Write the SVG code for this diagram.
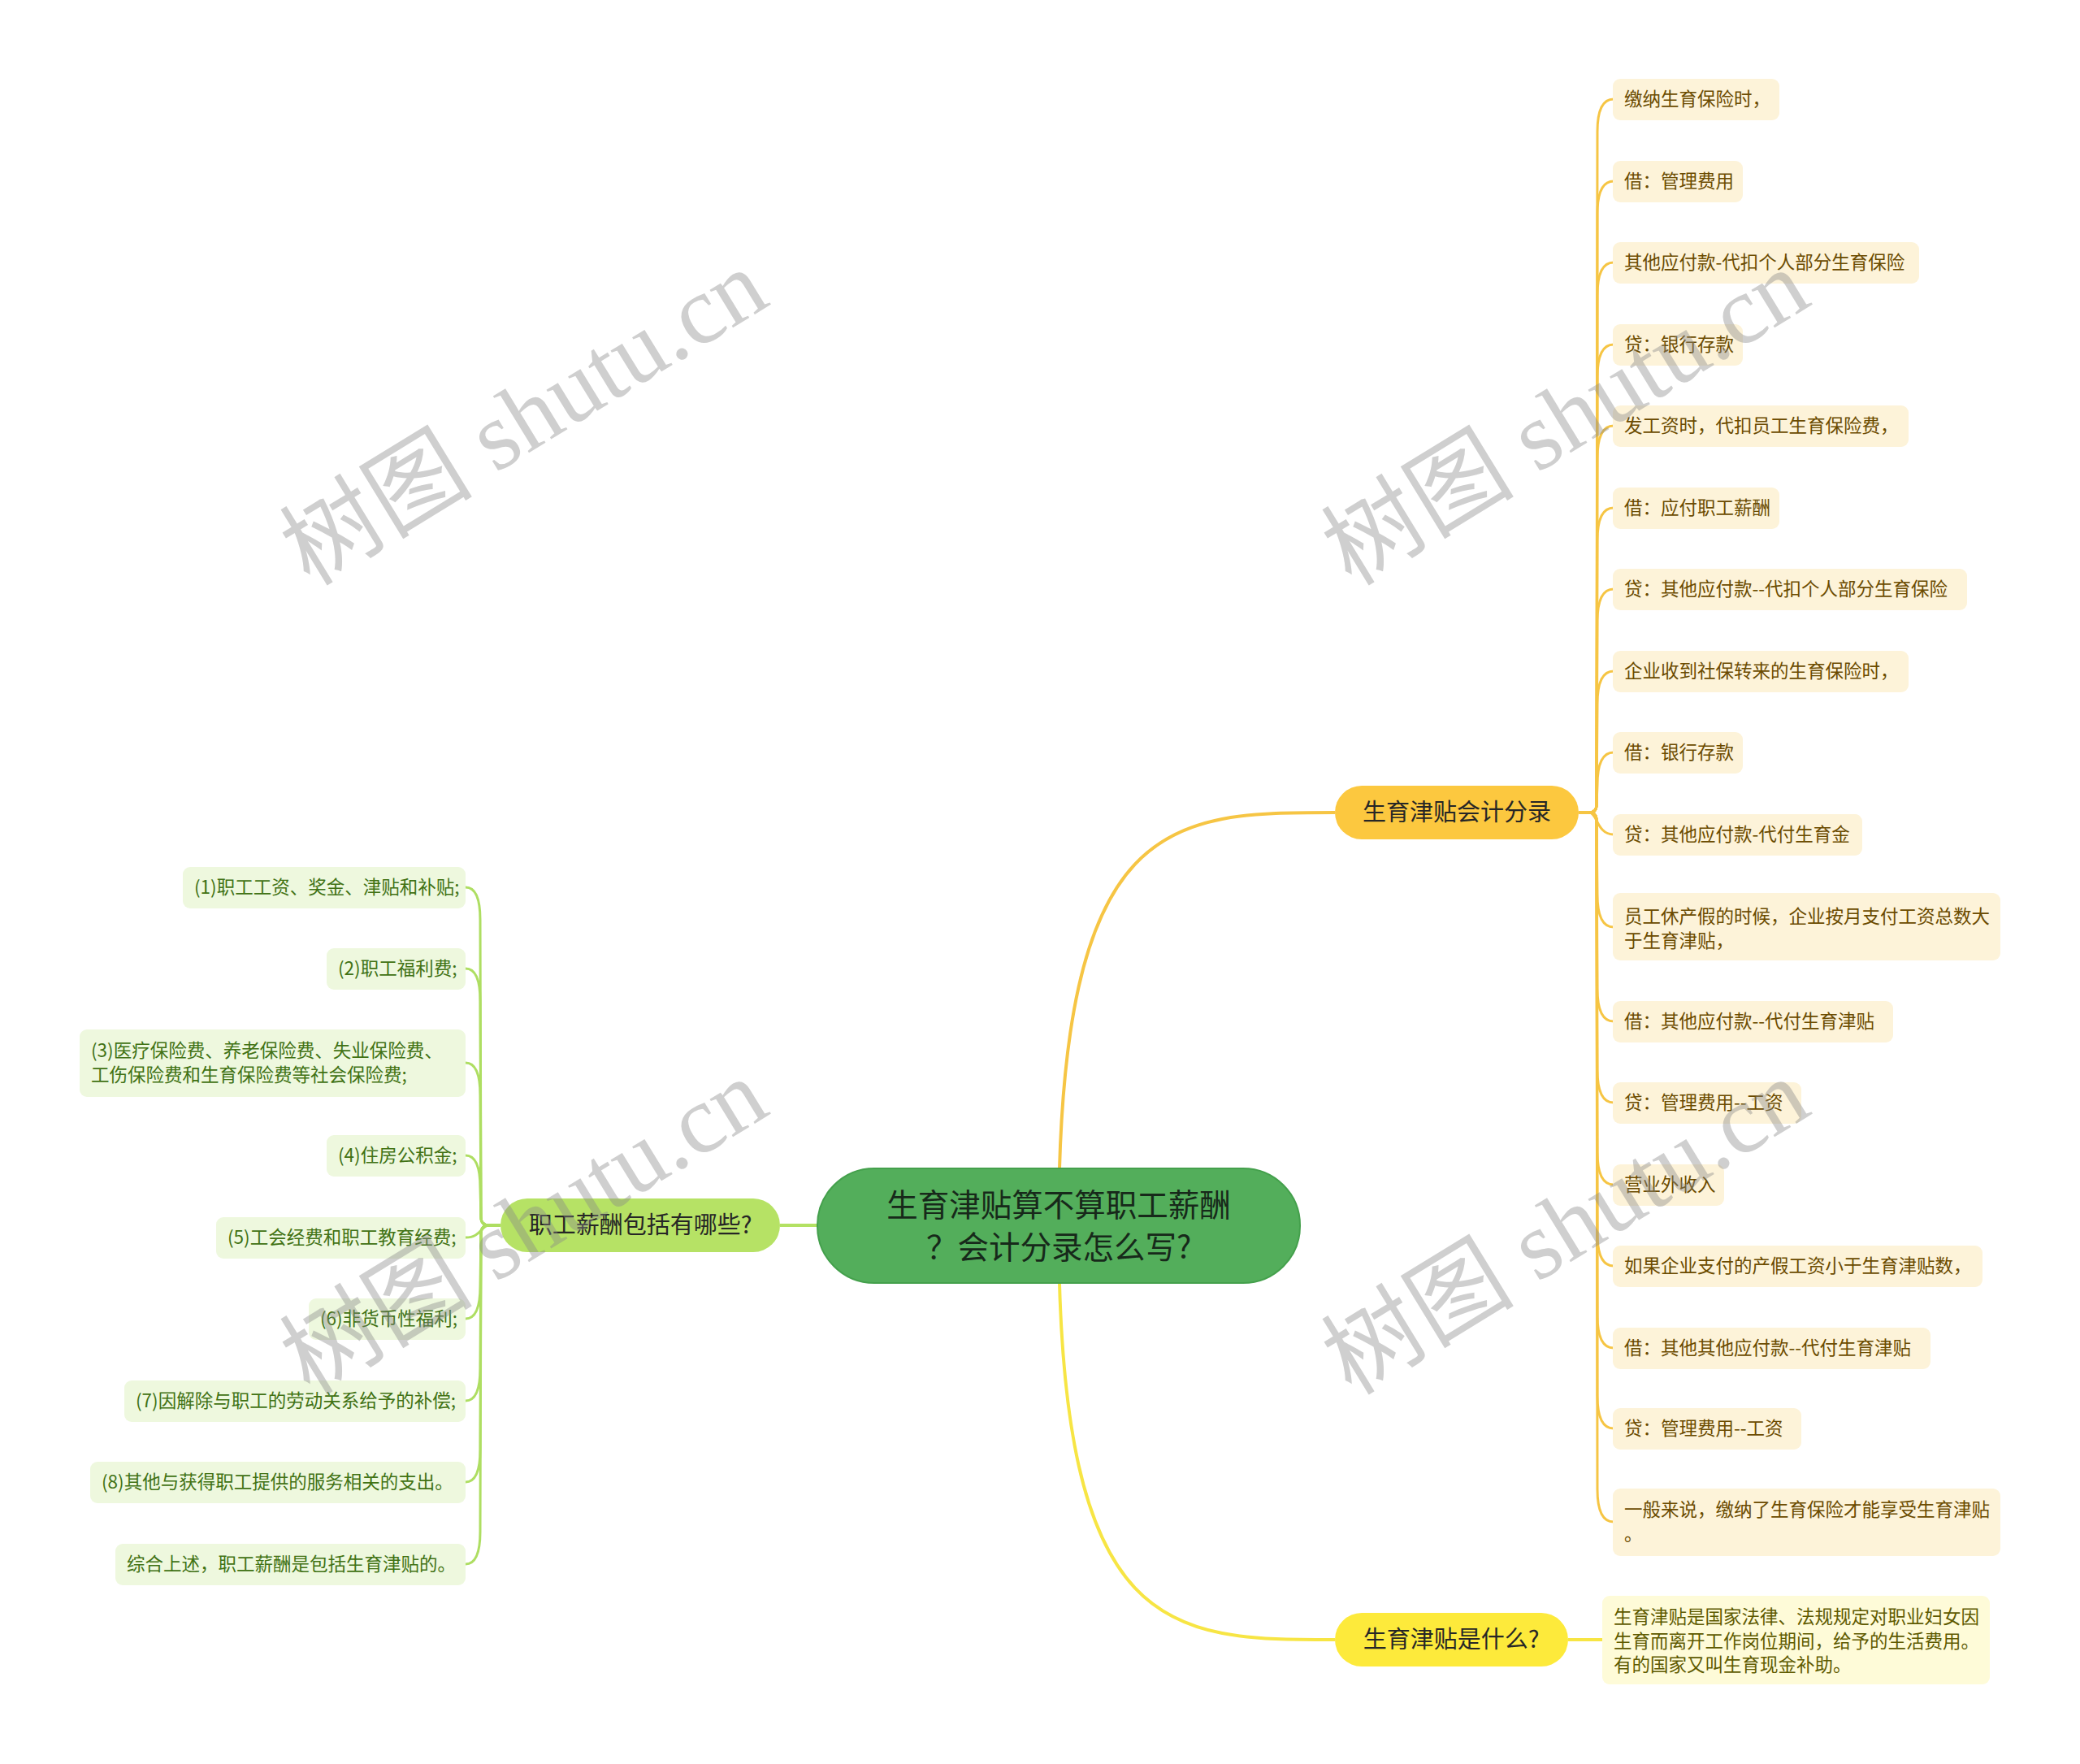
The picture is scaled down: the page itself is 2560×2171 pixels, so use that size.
<svg xmlns="http://www.w3.org/2000/svg" width="2560" height="2171" viewBox="0 0 2560 2171">
<style>
text{font-family:"Noto Sans CJK SC","Noto Sans",sans-serif}
.rl rect{fill:#fdf3d9}
.rl text{font-size:22.5px;fill:#6b4b00}
.ll rect{fill:#eef8de}
.ll text{font-size:22.5px;fill:#417214}
.br text{font-size:29px;fill:#262626}
.cy{fill:none;stroke:#f6c544;stroke-width:3}
.cg{fill:none;stroke:#aede62;stroke-width:3}
.wm{font-family:"Liberation Serif","Noto Sans CJK SC",serif;font-size:119px;fill:#888;opacity:0.4}
</style>
<rect width="2560" height="2171" fill="#fff"/>
<g id="connectors">
<path d="M1303,1509 C1303,1000 1440,1000 1643,1000" fill="none" stroke="#f6c544" stroke-width="4"/>
<path d="M1303,1509 C1303,2018 1440,2018 1643,2018" fill="none" stroke="#f7e544" stroke-width="4"/>
<path d="M1303,1508 L960,1508" fill="none" stroke="#b3e163" stroke-width="4"/>
<path d="M1930,2018 L1972,2018" fill="none" stroke="#f7e544" stroke-width="4"/>
<g class="cy">
<path d="M1943,1000 H1956 Q1965,1000 1965,990 L1966,162 C1966,137 1972,122 1986,122"/>
<path d="M1943,1000 H1956 Q1965,1000 1965,990 L1966,263 C1966,238 1972,223 1986,223"/>
<path d="M1943,1000 H1956 Q1965,1000 1965,990 L1966,363 C1966,338 1972,323 1986,323"/>
<path d="M1943,1000 H1956 Q1965,1000 1965,990 L1966,464 C1966,439 1972,424 1986,424"/>
<path d="M1943,1000 H1956 Q1965,1000 1965,990 L1966,564 C1966,539 1972,524 1986,524"/>
<path d="M1943,1000 H1956 Q1965,1000 1965,990 L1966,665 C1966,640 1972,625 1986,625"/>
<path d="M1943,1000 H1956 Q1965,1000 1965,990 L1966,765 C1966,740 1972,725 1986,725"/>
<path d="M1943,1000 H1956 Q1965,1000 1965,990 L1966,866 C1966,841 1972,826 1986,826"/>
<path d="M1943,1000 H1956 Q1965,1000 1965,990 L1966,966 C1966,941 1972,926 1986,926"/>
<path d="M1943,1000 H1956 C1966,1000 1965,1027 1986,1027"/>
<path d="M1943,1000 H1956 Q1965,1000 1965,1010 L1966,1101 C1966,1126 1972,1141 1986,1141"/>
<path d="M1943,1000 H1956 Q1965,1000 1965,1010 L1966,1217 C1966,1242 1972,1257 1986,1257"/>
<path d="M1943,1000 H1956 Q1965,1000 1965,1010 L1966,1317 C1966,1342 1972,1357 1986,1357"/>
<path d="M1943,1000 H1956 Q1965,1000 1965,1010 L1966,1418 C1966,1443 1972,1458 1986,1458"/>
<path d="M1943,1000 H1956 Q1965,1000 1965,1010 L1966,1518 C1966,1543 1972,1558 1986,1558"/>
<path d="M1943,1000 H1956 Q1965,1000 1965,1010 L1966,1619 C1966,1644 1972,1659 1986,1659"/>
<path d="M1943,1000 H1956 Q1965,1000 1965,1010 L1966,1718 C1966,1743 1972,1758 1986,1758"/>
<path d="M1943,1000 H1956 Q1965,1000 1965,1010 L1966,1833 C1966,1858 1972,1873 1986,1873"/>
</g>
<g class="cg">
<path d="M616,1508 H602 Q592,1508 592,1498 L591,1132 C591,1107 586,1092 573,1092"/>
<path d="M616,1508 H602 Q592,1508 592,1498 L591,1232 C591,1207 586,1192 573,1192"/>
<path d="M616,1508 H602 Q592,1508 592,1498 L591,1348 C591,1323 586,1308 573,1308"/>
<path d="M616,1508 H602 Q592,1508 592,1498 L591,1462 C591,1437 586,1422 573,1422"/>
<path d="M616,1508 H602 C592,1508 592,1523 573,1523"/>
<path d="M616,1508 H602 Q592,1508 592,1518 L591,1583 C591,1608 586,1623 573,1623"/>
<path d="M616,1508 H602 Q592,1508 592,1518 L591,1684 C591,1709 586,1724 573,1724"/>
<path d="M616,1508 H602 Q592,1508 592,1518 L591,1784 C591,1809 586,1824 573,1824"/>
<path d="M616,1508 H602 Q592,1508 592,1518 L591,1885 C591,1910 586,1925 573,1925"/>
</g>
</g>
<g id="root">
<rect x="1006" y="1438" width="594" height="141" rx="70" fill="#53ae5b" stroke="#44a04c" stroke-width="2"/>
<text x="1303" y="1497" font-size="38.5" fill="#17291a" text-anchor="middle">生育津贴算不算职工薪酬</text>
<text x="1303" y="1549" font-size="38.5" fill="#17291a" text-anchor="middle">？会计分录怎么写?</text>
</g>
<g id="b-kuaiji" class="br">
<rect x="1643" y="967" width="300" height="66" rx="33" fill="#fcc83f"/>
<text x="1793" y="1010" text-anchor="middle">生育津贴会计分录</text>
</g>
<g id="b-shenme" class="br">
<rect x="1643" y="1985" width="287" height="66" rx="33" fill="#fdea3b"/>
<text x="1786" y="2028" text-anchor="middle">生育津贴是什么?</text>
</g>
<g id="b-xinchou" class="br">
<rect x="616" y="1475" width="344" height="66" rx="33" fill="#b6e265"/>
<text x="788" y="1518" text-anchor="middle">职工薪酬包括有哪些?</text>
</g>
<g id="leaf-shenme">
<rect x="1972" y="1964" width="477" height="109" rx="9" fill="#fefbd8"/>
<text x="1986" y="1998" font-size="22.5" fill="#5e5a00">生育津贴是国家法律、法规规定对职业妇女因</text>
<text x="1986" y="2028" font-size="22.5" fill="#5e5a00">生育而离开工作岗位期间，给予的生活费用。</text>
<text x="1986" y="2057" font-size="22.5" fill="#5e5a00">有的国家又叫生育现金补助。</text>
</g>
<g id="r1" class="rl"><rect x="1985" y="97" width="205" height="51" rx="9"/><text x="1999" y="130">缴纳生育保险时，</text></g>
<g id="r2" class="rl"><rect x="1985" y="198" width="160" height="51" rx="9"/><text x="1999" y="231">借：管理费用</text></g>
<g id="r3" class="rl"><rect x="1985" y="298" width="377" height="51" rx="9"/><text x="1999" y="331">其他应付款-代扣个人部分生育保险</text></g>
<g id="r4" class="rl"><rect x="1985" y="399" width="160" height="51" rx="9"/><text x="1999" y="432">贷：银行存款</text></g>
<g id="r5" class="rl"><rect x="1985" y="499" width="364" height="51" rx="9"/><text x="1999" y="532">发工资时，代扣员工生育保险费，</text></g>
<g id="r6" class="rl"><rect x="1985" y="600" width="205" height="51" rx="9"/><text x="1999" y="633">借：应付职工薪酬</text></g>
<g id="r7" class="rl"><rect x="1985" y="700" width="436" height="51" rx="9"/><text x="1999" y="733">贷：其他应付款--代扣个人部分生育保险</text></g>
<g id="r8" class="rl"><rect x="1985" y="801" width="364" height="51" rx="9"/><text x="1999" y="834">企业收到社保转来的生育保险时，</text></g>
<g id="r9" class="rl"><rect x="1985" y="901" width="160" height="51" rx="9"/><text x="1999" y="934">借：银行存款</text></g>
<g id="r10" class="rl"><rect x="1985" y="1002" width="307" height="51" rx="9"/><text x="1999" y="1035">贷：其他应付款-代付生育金</text></g>
<g id="r11" class="rl"><rect x="1985" y="1099" width="477" height="83" rx="9"/><text x="1999" y="1136">员工休产假的时候，企业按月支付工资总数大</text><text x="1999" y="1166">于生育津贴，</text></g>
<g id="r12" class="rl"><rect x="1985" y="1232" width="345" height="51" rx="9"/><text x="1999" y="1265">借：其他应付款--代付生育津贴</text></g>
<g id="r13" class="rl"><rect x="1985" y="1332" width="232" height="51" rx="9"/><text x="1999" y="1365">贷：管理费用--工资</text></g>
<g id="r14" class="rl"><rect x="1985" y="1433" width="137" height="51" rx="9"/><text x="1999" y="1466">营业外收入</text></g>
<g id="r15" class="rl"><rect x="1985" y="1533" width="455" height="51" rx="9"/><text x="1999" y="1566">如果企业支付的产假工资小于生育津贴数，</text></g>
<g id="r16" class="rl"><rect x="1985" y="1634" width="391" height="51" rx="9"/><text x="1999" y="1667">借：其他其他应付款--代付生育津贴</text></g>
<g id="r17" class="rl"><rect x="1985" y="1733" width="232" height="51" rx="9"/><text x="1999" y="1766">贷：管理费用--工资</text></g>
<g id="r18" class="rl"><rect x="1985" y="1832" width="477" height="83" rx="9"/><text x="1999" y="1866">一般来说，缴纳了生育保险才能享受生育津贴</text><text x="1999" y="1896">。</text></g>
<g id="l1" class="ll"><rect x="225" y="1067" width="348" height="51" rx="9"/><text x="239" y="1100">(1)职工工资、奖金、津贴和补贴;</text></g>
<g id="l2" class="ll"><rect x="402" y="1167" width="171" height="51" rx="9"/><text x="416" y="1200">(2)职工福利费;</text></g>
<g id="l3" class="ll"><rect x="98" y="1267" width="475" height="83" rx="9"/><text x="112" y="1301">(3)医疗保险费、养老保险费、失业保险费、</text><text x="112" y="1331">工伤保险费和生育保险费等社会保险费;</text></g>
<g id="l4" class="ll"><rect x="402" y="1397" width="171" height="51" rx="9"/><text x="416" y="1430">(4)住房公积金;</text></g>
<g id="l5" class="ll"><rect x="266" y="1498" width="307" height="51" rx="9"/><text x="280" y="1531">(5)工会经费和职工教育经费;</text></g>
<g id="l6" class="ll"><rect x="380" y="1598" width="193" height="51" rx="9"/><text x="394" y="1631">(6)非货币性福利;</text></g>
<g id="l7" class="ll"><rect x="153" y="1699" width="420" height="51" rx="9"/><text x="167" y="1732">(7)因解除与职工的劳动关系给予的补偿;</text></g>
<g id="l8" class="ll"><rect x="111" y="1799" width="462" height="51" rx="9"/><text x="125" y="1832">(8)其他与获得职工提供的服务相关的支出。</text></g>
<g id="l9" class="ll"><rect x="142" y="1900" width="431" height="51" rx="9"/><text x="156" y="1933">综合上述，职工薪酬是包括生育津贴的。</text></g>
<g id="watermarks">
<text class="wm" x="645" y="514" text-anchor="middle" dominant-baseline="central" transform="rotate(-31.5 645 514)">树图 shutu.cn</text>
<text class="wm" x="1927" y="514" text-anchor="middle" dominant-baseline="central" transform="rotate(-31.5 1927 514)">树图 shutu.cn</text>
<text class="wm" x="645" y="1510" text-anchor="middle" dominant-baseline="central" transform="rotate(-31.5 645 1510)">树图 shutu.cn</text>
<text class="wm" x="1927" y="1510" text-anchor="middle" dominant-baseline="central" transform="rotate(-31.5 1927 1510)">树图 shutu.cn</text>
</g>
</svg>
